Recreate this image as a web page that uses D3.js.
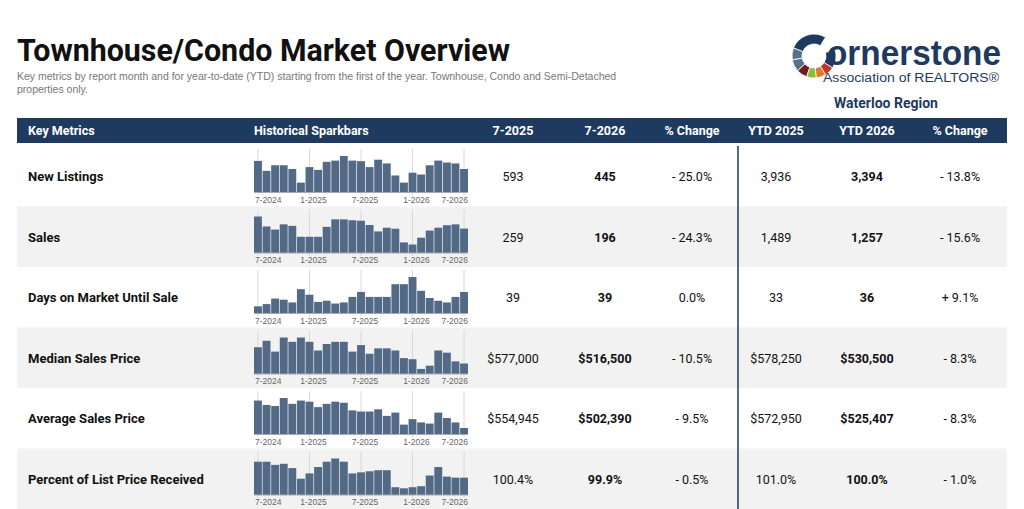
<!DOCTYPE html>
<html><head><meta charset="utf-8">
<script src="https://cdn.jsdelivr.net/npm/d3@7"></script>
<style>body{margin:0;background:#fff}svg{display:block}</style>
</head><body><svg id="c" width="1024" height="509"></svg>
<script>
var metrics = ["New Listings","Sales","Days on Market Until Sale","Median Sales Price","Average Sales Price","Percent of List Price Received"];
var month2025 = ["593","259","39","$577,000","$554,945","100.4%"];
var month2026 = ["445","196","39","$516,500","$502,390","99.9%"];
var monthChange = ["- 25.0%","- 24.3%","0.0%","- 10.5%","- 9.5%","- 0.5%"];
var ytd2025 = ["3,936","1,489","33","$578,250","$572,950","101.0%"];
var ytd2026 = ["3,394","1,257","36","$530,500","$525,407","100.0%"];
var ytdChange = ["- 13.8%","- 15.6%","+ 9.1%","- 8.3%","- 8.3%","- 1.0%"];
var sparkTicks = ["7-2024","1-2025","7-2025","1-2026","7-2026"];
var newListings = [597,410,515,515,445,187,480,427,580,603,690,603,593,480,620,550,322,187,374,340,515,603,567,550,445];
var sales = [293,213,188,230,218,130,130,130,210,270,270,263,259,225,173,203,195,85,68,123,180,203,223,230,196];
var daysOnMarket = [13,17,27,25,20,44,34,21,23,18,20,30,39,30,30,30,53,53,66,41,28,23,20,30,39];
var medianPrice = [569900,591200,555600,601900,587700,601900,587700,559200,580500,587700,587700,555600,577000,548500,566300,566300,559200,534300,530700,498700,509400,559200,552100,523600,516500];
var averagePrice = [590000,576000,572500,598200,579500,590000,586500,569000,579500,586500,583000,558500,554945,555000,562000,541000,551500,513000,530500,520000,516400,551500,534000,520000,502390];
var pctList = [101.4,101.4,101.1,101.2,100.8,99.8,100.3,100.9,101.4,101.7,101.4,100.3,100.4,100.5,100.6,100.6,99.0,98.9,99.0,99.1,100.1,100.9,100.0,99.9,99.9];
var sparkMin = [0,0,0,482100,481400,98.27];

var series = [newListings,sales,daysOnMarket,medianPrice,averagePrice,pctList];
var FONT = "'Roboto','Liberation Sans',Arial,sans-serif";
var svg = d3.select("#c").style("font-family", FONT);
var navy = "#1f3a5f";

// title block
svg.append("text").attr("x",17).attr("y",61).attr("font-size",31).attr("font-weight","bold").attr("fill","#111")
  .attr("textLength",493).attr("lengthAdjust","spacingAndGlyphs").text("Townhouse/Condo Market Overview");
svg.append("text").attr("x",17).attr("y",80).attr("font-size",10.5).attr("fill","#777").attr("font-family","'Liberation Sans',Arial")
  .text("Key metrics by report month and for year-to-date (YTD) starting from the first of the year. Townhouse, Condo and Semi-Detached");
svg.append("text").attr("x",17).attr("y",93).attr("font-size",10.5).attr("fill","#777").attr("font-family","'Liberation Sans',Arial").text("properties only.");

// logo
var ringCols = ["#5a6f8a","#6b1f1f","#8dbb3c","#e07b2a","#c0392b"];
var arc = d3.arc().innerRadius(12).outerRadius(22);
var lg = svg.append("g").attr("transform","translate(814,56)");
// angles in radians, clockwise from 12 o'clock
var segs = [[-1.2,0.55,navy],[-1.75,-1.2,ringCols[0]],[-2.3,-1.75,ringCols[0]],[-2.8,-2.3,ringCols[1]],[-3.25,-2.8,ringCols[2]],[-3.7,-3.25,ringCols[3]],[-4.15,-3.7,ringCols[4]],[-5.0,-4.15,navy]];
segs.forEach(function(s){
  lg.append("path").attr("d",arc({startAngle:s[0],endAngle:s[1]})).attr("fill",s[2]).attr("stroke","#fff").attr("stroke-width",0.8);
});
svg.append("text").attr("x",827).attr("y",65).attr("font-size",35).attr("font-weight","bold").attr("fill",navy).attr("font-family","'Liberation Sans',Arial")
  .attr("textLength",174).attr("lengthAdjust","spacingAndGlyphs").text("ornerstone");
svg.append("text").attr("x",823).attr("y",82).attr("font-size",12.5).attr("fill",navy).attr("font-family","'Liberation Sans',Arial")
  .attr("textLength",176).attr("lengthAdjust","spacingAndGlyphs").text("Association of REALTORS®");
svg.append("text").attr("x",886).attr("y",108).attr("text-anchor","middle").attr("font-size",14).attr("font-weight","bold").attr("fill",navy).text("Waterloo Region");

// header bar
var topY = 118, hh = 25, rh = 60.5, x0 = 17, x1 = 1007;
svg.append("rect").attr("x",x0).attr("y",topY).attr("width",x1-x0).attr("height",hh).attr("fill",navy);
var headers = [["Key Metrics",28,"start"],["Historical Sparkbars",254,"start"],["7-2025",513,"middle"],["7-2026",605,"middle"],["% Change",692,"middle"],["YTD 2025",776,"middle"],["YTD 2026",867,"middle"],["% Change",960,"middle"]];
headers.forEach(function(h){
  svg.append("text").attr("x",h[1]).attr("y",topY+17).attr("text-anchor",h[2]).attr("font-size",12.5).attr("font-weight","bold").attr("fill","#fff").text(h[0]);
});

var y0 = topY + hh + 3;
var xb = d3.scaleBand().domain(d3.range(25)).range([254,468]).paddingInner(0.08);
metrics.forEach(function(m,i){
  var ry = y0 + i*rh;
  var g = svg.append("g").attr("transform","translate(0,"+ry+")");
  if(i%2===1) g.append("rect").attr("x",x0).attr("width",x1-x0).attr("height",rh).attr("fill","#f2f2f2");
  var cy = rh/2 + 5;
  g.append("text").attr("x",28).attr("y",cy).attr("font-size",13).attr("font-weight","bold").attr("fill","#111").text(m);
  var cols = [[month2025,513,false],[month2026,605,true],[monthChange,692,false],[ytd2025,776,false],[ytd2026,867,true],[ytdChange,960,false]];
  cols.forEach(function(c){
    g.append("text").attr("x",c[1]).attr("y",cy).attr("text-anchor","middle").attr("font-size",12.5).attr("font-weight",c[2]?"bold":"normal").attr("fill","#111").text(c[0][i]);
  });
  // sparkbars
  var vals = series[i];
  var ys = d3.scaleLinear().domain([sparkMin[i], d3.max(vals)]).range([rh-14, 10]);
  [0,6,12,18,24].forEach(function(k,j){
    var tx = xb(k)+xb.bandwidth()/2;
    g.append("line").attr("x1",tx).attr("x2",tx).attr("y1",3).attr("y2",rh-11).attr("stroke","#d8d8d8");
    var lx = j===0 ? xb(k)+1 : (j===4 ? xb(k)+xb.bandwidth() : tx+4);
    g.append("text").attr("x",lx).attr("y",rh-4).attr("text-anchor",j===0?"start":(j===4?"end":"middle")).attr("font-size",8.5).attr("fill","#666").attr("font-family","'Liberation Sans',Arial").text(sparkTicks[j]);
  });
  g.selectAll("rect.b").data(vals).enter().append("rect").attr("class","b")
    .attr("x",function(d,k){return xb(k);}).attr("width",xb.bandwidth())
    .attr("y",function(d){return ys(d);}).attr("height",function(d){return rh-14-ys(d);})
    .attr("fill","#536a86");
  g.append("line").attr("x1",254).attr("x2",468).attr("y1",rh-14).attr("y2",rh-14).attr("stroke","#aaa");
});
svg.append("line").attr("x1",738).attr("x2",738).attr("y1",y0).attr("y2",y0+6*rh).attr("stroke",navy).attr("stroke-width",1.5);
</script></body></html>
